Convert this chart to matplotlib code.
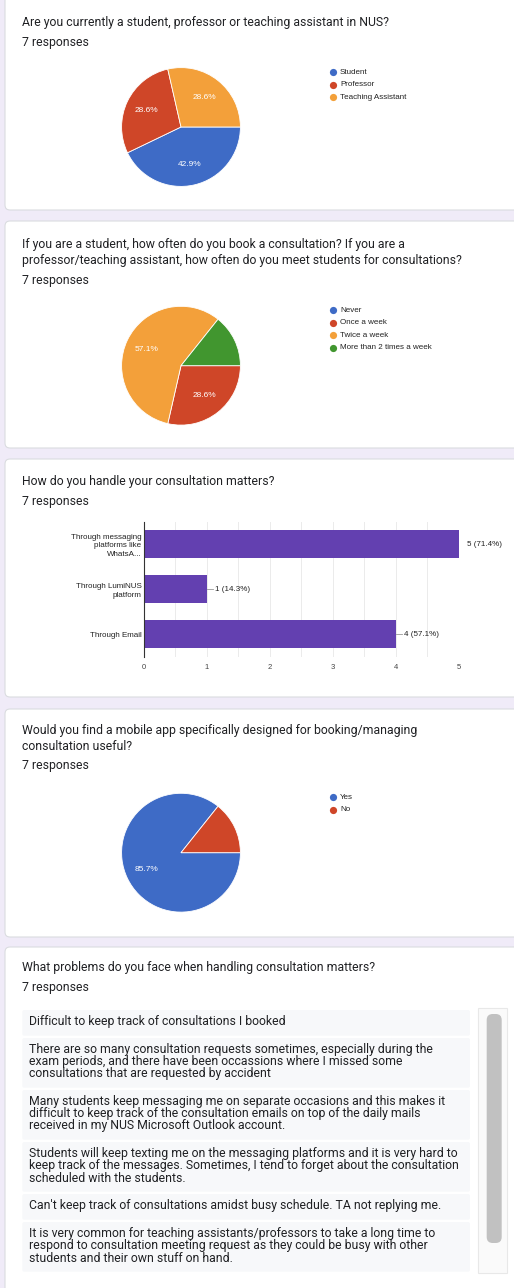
import matplotlib
matplotlib.use("Agg")
import matplotlib.pyplot as plt
from matplotlib.patches import FancyBboxPatch, Rectangle

W, H = 514, 1288

# ---------------- data ----------------
n_responses = 7

q1_title = ["Are you currently a student, professor or teaching assistant in NUS?"]
q1_labels = ["Student", "Professor", "Teaching Assistant"]
q1_counts = [3, 2, 2]

q2_title = ["If you are a student, how often do you book a consultation? If you are a",
            "professor/teaching assistant, how often do you meet students for consultations?"]
q2_labels = ["Never", "Once a week", "Twice a week", "More than 2 times a week"]
q2_counts = [0, 2, 4, 1]

q3_title = ["How do you handle your consultation matters?"]
q3_categories = ["Through messaging\nplatforms like\nWhatsA...",
                 "Through LumiNUS\nplatform",
                 "Through Email"]
q3_counts = [5, 1, 4]
q3_ticks = [0, 1, 2, 3, 4, 5]

q4_title = ["Would you find a mobile app specifically designed for booking/managing",
            "consultation useful?"]
q4_labels = ["Yes", "No"]
q4_counts = [6, 1]

q5_title = ["What problems do you face when handling consultation matters?"]
q5_responses = [
    "Difficult to keep track of consultations I booked",
    "There are so many consultation requests sometimes, especially during the\n"
    "exam periods, and there have been occassions where I missed some\n"
    "consultations that are requested by accident",
    "Many students keep messaging me on separate occasions and this makes it\n"
    "difficult to keep track of the consultation emails on top of the daily mails\n"
    "received in my NUS Microsoft Outlook account.",
    "Students will keep texting me on the messaging platforms and it is very hard to\n"
    "keep track of the messages. Sometimes, I tend to forget about the consultation\n"
    "scheduled with the students.",
    "Can't keep track of consultations amidst busy schedule. TA not replying me.",
    "It is very common for teaching assistants/professors to take a long time to\n"
    "respond to consultation meeting request as they could be busy with other\n"
    "students and their own stuff on hand.",
]

pie_colors = ["#3e6bc6", "#cf4628", "#f3a03a", "#41962f"]
bar_color = "#6340b0"

# ---------------- styling ----------------
PAGE_BG = "#f0ebf8"
CARD_EDGE = "#dadce0"
TXT = "#202124"
TITLE_FONT = ["Roboto", "DejaVu Sans"]
CHART_FONT = ["Liberation Sans", "DejaVu Sans"]
TITLE_SIZE = 8.8
CHART_SIZE = 5.8

fig = plt.figure(figsize=(W / 100, H / 100), dpi=100)
fig.patch.set_facecolor(PAGE_BG)
bg = fig.add_axes([0, 0, 1, 1])
bg.set_xlim(0, W)
bg.set_ylim(H, 0)
bg.axis("off")


def card(top, bottom):
    bg.add_patch(FancyBboxPatch((5, top), 560, bottom - top,
                                boxstyle="round,pad=0,rounding_size=5",
                                facecolor="white", edgecolor=CARD_EDGE, lw=0.8))


def title(lines, first_y, resp_y):
    for i, ln in enumerate(lines):
        bg.text(22, first_y + i * 16.5, ln, fontsize=TITLE_SIZE, color=TXT,
                family=TITLE_FONT, va="center", ha="left")
    bg.text(22, resp_y, f"{n_responses} responses", fontsize=TITLE_SIZE, color=TXT,
            family=TITLE_FONT, va="center", ha="left")


def pie_chart(cx, cy, counts, labels, legend_y):
    r = 60
    ax = fig.add_axes([(cx - r) / W, 1 - (cy + r) / H, 2 * r / W, 2 * r / H])

    def fmt(p):
        return f"{p:.1f}%" if p >= 20 else ""

    ax.pie(counts, colors=pie_colors[:len(counts)], startangle=0, counterclock=False,
           autopct=fmt, pctdistance=0.64, radius=1,
           wedgeprops=dict(edgecolor="white", linewidth=0.6),
           textprops=dict(color="white", fontsize=6.0, family=CHART_FONT))
    ax.set_xlim(-1.01, 1.01)
    ax.set_ylim(-1.01, 1.01)
    ax.set_aspect("equal")
    for i, lab in enumerate(labels):
        y = legend_y + i * 12.5
        bg.scatter([333], [y], s=27, color=pie_colors[i], zorder=3, linewidths=0)
        bg.text(340, y, lab, fontsize=5.8, color="#222222", family=CHART_FONT,
                va="center", ha="left")


# ---------------- card 1 ----------------
card(-10, 210)
title(q1_title, 22, 42)
pie_chart(181, 127, q1_counts, q1_labels, 72)

# ---------------- card 2 ----------------
card(221, 448)
title(q2_title, 244, 280)
pie_chart(181, 365.7, q2_counts, q2_labels, 310)

# ---------------- card 3 ----------------
card(459, 697)
title(q3_title, 481.7, 501.7)
left, right, top, bottom = 143.7, 459, 521.7, 657
bax = fig.add_axes([left / W, 1 - bottom / H, (right - left) / W, (bottom - top) / H])
ypos = list(range(len(q3_categories)))
bax.barh(ypos, q3_counts, height=0.62, color=bar_color, zorder=3)
bax.set_xlim(q3_ticks[0], q3_ticks[-1])
bax.set_ylim(len(q3_categories) - 0.5, -0.5)
bax.set_xticks(q3_ticks)
bax.set_xticks([t + 0.5 for t in q3_ticks[:-1]], minor=True)
bax.set_yticks(ypos)
bax.set_yticklabels(q3_categories, fontsize=CHART_SIZE, color="#222222", family=CHART_FONT,
                    linespacing=1.3)
bax.set_xticklabels([str(t) for t in q3_ticks], fontsize=5.5, color="#444444",
                    family=CHART_FONT)
bax.tick_params(axis="both", which="both", length=0)
bax.tick_params(axis="y", pad=1.5)
bax.tick_params(axis="x", pad=5)
bax.grid(axis="x", which="both", color="#ebebeb", lw=0.7, zorder=0)
for s in ["top", "right", "bottom"]:
    bax.spines[s].set_visible(False)
bax.spines["left"].set_color("#333333")
bax.spines["left"].set_linewidth(0.8)
bax.spines["left"].set_zorder(4)
for i, v in enumerate(q3_counts):
    bax.plot([v, v + 0.1], [i, i], color="#999999", lw=0.6, zorder=4, clip_on=True)
    bax.annotate(f"{v} ({100 * v / n_responses:.1f}%)", xy=(v, i), xytext=(6, 0),
                 textcoords="offset points", fontsize=CHART_SIZE, color="#222222",
                 family=CHART_FONT, va="center", ha="left", annotation_clip=False)

# ---------------- card 4 ----------------
card(709, 937)
title(q4_title, 730, 765.7)
pie_chart(181, 852.7, q4_counts, q4_labels, 797)

# ---------------- card 5 ----------------
card(947, 1310)
title(q5_title, 967.7, 987.7)
y = 1010
for resp in q5_responses:
    lines = resp.split("\n")
    h = 13.7 + 12 * len(lines)
    bg.add_patch(FancyBboxPatch((22.3, y), 447.7, h,
                                boxstyle="round,pad=0,rounding_size=2",
                                facecolor="#f7f8fa", edgecolor="none"))
    for k, ln in enumerate(lines):
        bg.text(29.3, y + 12 + 12 * k, ln, fontsize=8.8, color=TXT, family=TITLE_FONT,
                va="center", ha="left")
    y += h + 2.3
# scrollbar
bg.add_patch(Rectangle((478, 1008), 29, 265, facecolor="#fafafa",
                       edgecolor="#e8e8e8", lw=0.8))
bg.add_patch(FancyBboxPatch((486.7, 1014), 15, 229,
                            boxstyle="round,pad=0,rounding_size=6",
                            facecolor="#c1c1c1", edgecolor="none"))

fig.savefig("out.png", dpi=100, facecolor=fig.get_facecolor())
